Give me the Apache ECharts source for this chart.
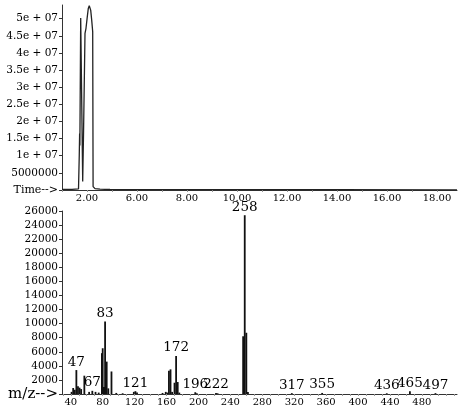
<!DOCTYPE html>
<html>
<head>
<meta charset="utf-8">
<script src="https://cdn.jsdelivr.net/npm/echarts@6/dist/echarts.min.js"></script>
<style>
html,body{margin:0;padding:0;background:#fff;}
#c{width:462px;height:408px;}
</style>
</head>
<body>
<div id="c"></div>
<script>
// ---- Chromatogram (top) ----
const chromTime = [3.00, 3.40, 3.66, 3.69, 3.705, 3.715, 3.748, 3.828, 3.86, 3.92, 3.96, 4.012, 4.052, 4.09, 4.12, 4.148, 4.188, 4.228, 4.244, 4.32, 4.52, 4.92, 6.0, 10.0, 14.0, 18.8];
const chromAbund = [2.0e5, 2.0e5, 3.0e5, 1.0e7, 1.65e7, 1.3e7, 5.02e7, 2.5e6, 1.6e7, 4.57e7, 4.72e7, 5.06e7, 5.3e7, 5.38e7, 5.36e7, 5.25e7, 4.96e7, 4.62e7, 1.0e6, 4.0e5, 2.5e5, 1.5e5, 1.2e5, 1.0e5, 8.0e4, 6.0e4];
const timeTickValues = [4, 6, 8, 10, 12, 14, 16, 18];
const timeTickLabels = ['2.00', '6.00', '8.00', '10.00', '12.00', '14.00', '16.00', '18.00'];
const abundTickLabels = {5000000: '5000000', 10000000: '1e + 07', 15000000: '1.5e + 07', 20000000: '2e + 07', 25000000: '2.5e + 07', 30000000: '3e + 07', 35000000: '3.5e + 07', 40000000: '4e + 07', 45000000: '4.5e + 07', 50000000: '5e + 07'};

// ---- Mass spectrum (bottom) ----
const mzValues = [41, 43, 45, 47, 49, 51, 53, 57, 63, 67, 71, 75, 79, 80, 81, 82, 83, 85, 87, 91, 97, 105, 119, 121, 123, 155, 159, 161, 163, 165, 167, 170, 172, 174, 176, 196, 198, 222, 224, 256, 258, 260, 262, 317, 355, 436, 465, 497];
const mzIntensity = [300, 850, 600, 3400, 1100, 900, 700, 2600, 300, 450, 300, 200, 5800, 6500, 1000, 1000, 10300, 4600, 800, 3200, 150, 100, 300, 400, 200, 150, 300, 200, 3300, 3500, 300, 1600, 5400, 1700, 200, 250, 100, 150, 100, 8200, 25400, 8700, 300, 120, 150, 100, 400, 120];
const labelledPeaks = [47, 67, 83, 121, 172, 196, 222, 258, 317, 355, 436, 465, 497];
const mzTickValues = [40, 80, 120, 160, 200, 240, 280, 320, 360, 400, 440, 480];

const serif = 'DejaVu Serif';
const axisColor = '#333';

const minorTimeTicks = [];
for (let t = 3; t <= 18; t++) minorTimeTicks.push(t);
const minorMzTicks = [];
for (let m = 30; m <= 520; m += 10) minorMzTicks.push(m);

const chart = echarts.init(document.getElementById('c'), null, {renderer: 'canvas'});
chart.setOption({
  animation: false,
  backgroundColor: '#fff',
  grid: [
    {left: 62, right: 5, top: 5, height: 185},
    {left: 62, right: 5, top: 211, height: 183}
  ],
  xAxis: [
    {
      gridIndex: 0, type: 'value', min: 3, max: 18.8,
      name: 'Time-->', nameLocation: 'start', nameGap: 4,
      nameTextStyle: {fontFamily: serif, fontSize: 11, color: '#000', verticalAlign: 'middle', padding: [4, 0, 0, 0]},
      axisLine: {lineStyle: {color: axisColor, width: 1}},
      axisTick: {show: true, customValues: minorTimeTicks, length: 2, lineStyle: {color: '#999'}},
      splitLine: {show: false},
      axisLabel: {
        customValues: timeTickValues, margin: 3,
        fontFamily: serif, fontSize: 10, color: '#000',
        formatter: v => timeTickLabels[timeTickValues.indexOf(v)] || ''
      }
    },
    {
      gridIndex: 1, type: 'value', min: 29, max: 524,
      name: 'm/z-->', nameLocation: 'start', nameGap: 4,
      nameTextStyle: {fontFamily: serif, fontSize: 15, color: '#000', verticalAlign: 'middle', padding: [10, 0, 0, 0]},
      axisLine: {lineStyle: {color: axisColor, width: 1}},
      axisTick: {show: true, customValues: minorMzTicks, length: 2, lineStyle: {color: '#999'}},
      splitLine: {show: false},
      axisLabel: {
        customValues: mzTickValues, margin: 3,
        fontFamily: serif, fontSize: 10, color: '#000'
      }
    }
  ],
  yAxis: [
    {
      gridIndex: 0, type: 'value', min: 0, max: 5.4e7, interval: 5e6,
      axisLine: {show: true, lineStyle: {color: axisColor, width: 1}},
      axisTick: {show: true, length: 3, lineStyle: {color: axisColor}},
      splitLine: {show: false},
      axisLabel: {
        margin: 4, fontFamily: serif, fontSize: 10.5, color: '#000',
        showMaxLabel: false,
        formatter: v => abundTickLabels[v] || ''
      }
    },
    {
      gridIndex: 1, type: 'value', min: 0, max: 26000, interval: 2000,
      axisLine: {show: true, lineStyle: {color: axisColor, width: 1}},
      axisTick: {show: true, length: 3, lineStyle: {color: axisColor}},
      splitLine: {show: false},
      axisLabel: {
        margin: 4, fontFamily: serif, fontSize: 10.5, color: '#000',
        formatter: v => v === 0 ? '' : String(v)
      }
    }
  ],
  series: [
    {
      type: 'line', xAxisIndex: 0, yAxisIndex: 0, silent: true,
      showSymbol: false, symbol: 'none',
      lineStyle: {color: '#222', width: 1.3},
      data: chromTime.map((t, i) => [t, chromAbund[i]])
    },
    {
      type: 'bar', xAxisIndex: 1, yAxisIndex: 1, silent: true,
      barWidth: 1.8,
      itemStyle: {color: '#111'},
      label: {
        show: false, position: 'top', distance: 1,
        fontFamily: serif, fontSize: 13.5, color: '#000',
        formatter: p => String(p.value[0])
      },
      data: mzValues.map((m, i) => ({
        value: [m, mzIntensity[i]],
        label: {show: labelledPeaks.indexOf(m) >= 0}
      }))
    }
  ]
});
</script>
</body>
</html>
